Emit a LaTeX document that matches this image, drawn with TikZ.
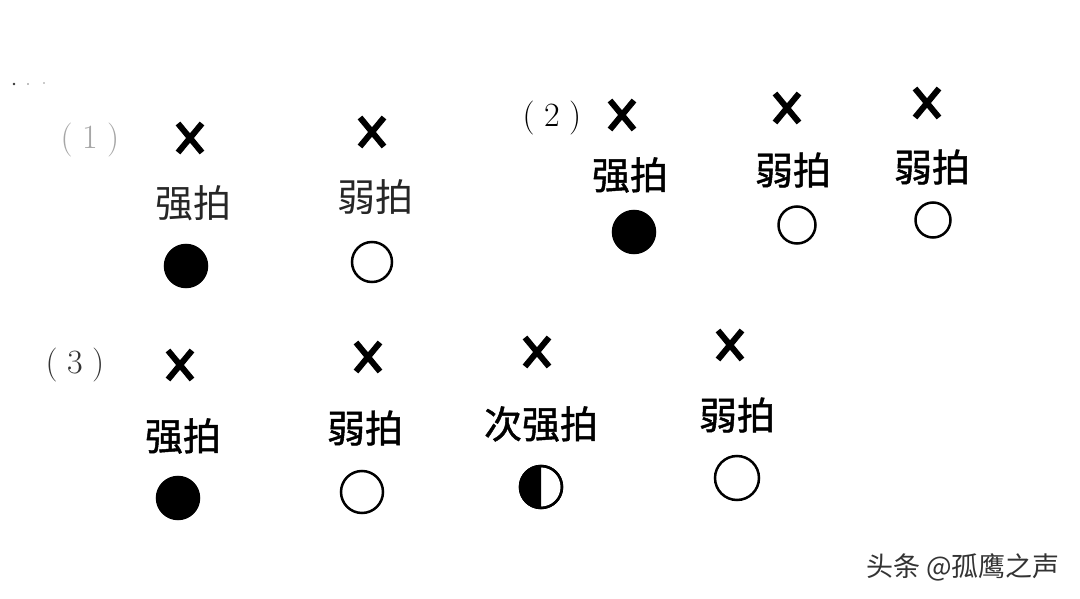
\documentclass[tikz,border=0pt]{standalone}
\usepackage{fontspec}
\newfontfamily\cjk{Noto Sans CJK SC}
\newfontfamily\cjkfb[FakeBold=1.2]{Noto Sans CJK SC}
\usetikzlibrary{shapes.misc}
\begin{document}
\begin{tikzpicture}[x=1pt,y=1pt,
  xm/.style={cross out,draw=black,line width=6pt,minimum width=18pt,minimum height=23pt,inner sep=0pt},
  lbl/.style={font=\cjkfb\fontsize{38}{40}\selectfont,inner sep=0pt},
  lbllight/.style={font=\cjk\fontsize{38}{40}\selectfont,inner sep=0pt,text=black!85},
  num/.style={font=\fontsize{34}{36}\selectfont,inner sep=0pt},
  beatfull/.style={circle,draw=black,line width=2.5pt,fill=black,minimum size=42pt,inner sep=0pt},
  beatopen/.style={circle,draw=black,line width=2.5pt,fill=white,minimum size=40pt,inner sep=0pt}]
\useasboundingbox[fill=white] (0,0) rectangle (1080,-599);
% specks
\fill[black!80] (14,-84) circle (1.3pt);
\fill[black!50] (28,-84) circle (0.9pt);
\fill[black!40] (44,-83) circle (0.8pt);
% (1)
\node[num,text=black!35] (n1) at (90,-140) {(\;1\;)};
\node[xm] (x11) at (190,-138) {};
\node[lbllight] (t11) at (193,-203) {强拍};
\node[beatfull] (c11) at (186,-266) {};
\node[xm] (x12) at (372,-132) {};
\node[lbllight] (t12) at (375,-197) {弱拍};
\node[beatopen] (c12) at (372,-262) {};
% (2)
\node[num] (n2) at (552,-118) {(\;2\;)};
\node[xm] (x21) at (622,-115) {};
\node[lbl] (t21) at (630,-175) {强拍};
\node[beatfull] (c21) at (634,-232) {};
\node[xm] (x22) at (787,-108) {};
\node[lbl] (t22) at (793,-170) {弱拍};
\node[beatopen,minimum size=37pt] (c22) at (797,-225) {};
\node[xm] (x23) at (927,-103) {};
\node[lbl] (t23) at (932,-167) {弱拍};
\node[beatopen,minimum size=35pt] (c23) at (933,-220) {};
% (3)
\node[num,text=black!80] (n3) at (75,-365) {(\;3\;)};
\node[xm] (x31) at (180,-365) {};
\node[lbl] (t31) at (183,-436) {强拍};
\node[beatfull] (c31) at (178,-498) {};
\node[xm] (x32) at (368,-357) {};
\node[lbl] (t32) at (365,-428) {弱拍};
\node[beatopen,minimum size=42pt] (c32) at (362,-492) {};
\node[xm] (x33) at (537,-352) {};
\node[lbl] (t33) at (541,-424) {次强拍};
\node[beatopen,minimum size=42pt] (c33) at (541,-487) {};
\fill[black] (541,-466) arc[start angle=90,end angle=270,radius=21pt] -- cycle;
\draw[line width=2.5pt] (c33) circle (21pt);
\node[xm] (x34) at (730,-345) {};
\node[lbl] (t34) at (737,-415) {弱拍};
\node[beatopen,minimum size=44pt] (c34) at (737,-478) {};
% watermark
\node[font=\cjk\fontsize{27}{29}\selectfont,text=black!80,inner sep=0pt] (wm) at (963,-567) {头条 @孤鹰之声};
\end{tikzpicture}
\end{document}
